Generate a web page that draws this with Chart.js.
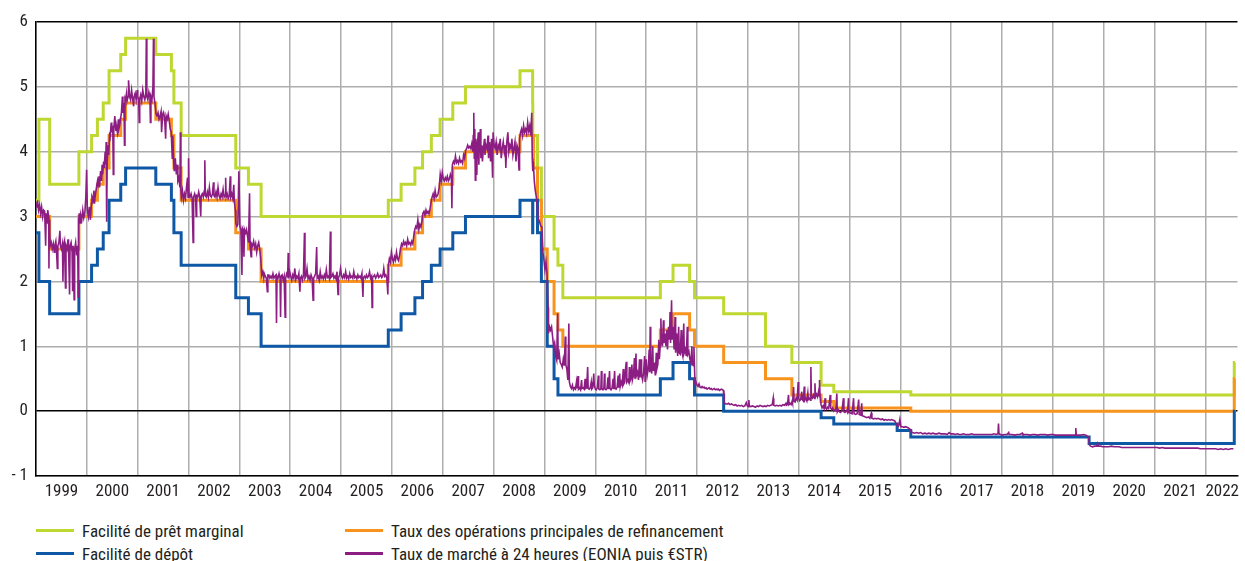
<!DOCTYPE html>
<html>
<head>
<meta charset="utf-8">
<script src="https://cdn.jsdelivr.net/npm/chart.js@4"></script>
<style>
  html, body { margin: 0; padding: 0; background: #fff; overflow: hidden; }
  #wrap { position: relative; width: 1245px; height: 561px; }
  #chart { position: absolute; left: 0; top: 0; }
  #legend { position: absolute; left: 0; top: 519px; width: 1245px; color: #231f20;
    font-family: 'Liberation Sans Narrow', 'Arial Narrow', 'Roboto Condensed', 'Liberation Sans', Arial, sans-serif;
    font-size: 17px; }
  .item { position: absolute; height: 23px; display: flex; align-items: center; white-space: nowrap; }
  .item i { display: inline-block; width: 38px; height: 3px; margin-right: 8px; }
</style>
</head>
<body>
<div id="wrap">
  <canvas id="chart" width="1245" height="510"></canvas>
  <div id="legend"></div>
</div>
<script>
const FONT = "'Liberation Sans Narrow', 'Arial Narrow', 'Roboto Condensed', 'Liberation Sans', Arial, sans-serif"

// x range (decimal years) and tick labels
const xMin = 1999
const xMax = 2022.63
const years = [1999, 2000, 2001, 2002, 2003, 2004, 2005, 2006, 2007, 2008, 2009, 2010,
  2011, 2012, 2013, 2014, 2015, 2016, 2017, 2018, 2019, 2020, 2021, 2022]
const yTicks = [-1, 0, 1, 2, 3, 4, 5, 6]

// ECB key rates, effective dates
const rateDates = ['1999-01-01', '1999-01-22', '1999-04-09', '1999-11-05', '2000-02-04', '2000-03-17',
  '2000-04-28', '2000-06-09', '2000-09-01', '2000-10-06', '2001-05-11', '2001-08-31', '2001-09-18',
  '2001-11-09', '2002-12-06', '2003-03-07', '2003-06-06', '2005-12-06', '2006-03-08', '2006-06-15',
  '2006-08-09', '2006-10-11', '2006-12-13', '2007-03-14', '2007-06-13', '2008-07-09', '2008-10-08',
  '2008-10-09', '2008-10-15', '2008-11-12', '2008-12-10', '2009-01-21', '2009-03-11', '2009-04-08',
  '2009-05-13', '2011-04-13', '2011-07-13', '2011-11-09', '2011-12-14', '2012-07-11', '2013-05-08',
  '2013-11-13', '2014-06-11', '2014-09-10', '2015-12-09', '2016-03-16', '2019-09-18', '2022-07-27',
  '2022-08-01']
const marginalRate = [3.25, 4.50, 3.50, 4.00, 4.25, 4.50, 4.75, 5.25, 5.50, 5.75, 5.50, 5.25, 4.75,
  4.25, 3.75, 3.50, 3.00, 3.25, 3.50, 3.75, 4.00, 4.25, 4.50, 4.75, 5.00, 5.25, 4.75, 4.25, 4.25,
  3.75, 3.00, 3.00, 2.50, 2.25, 1.75, 2.00, 2.25, 2.00, 1.75, 1.50, 1.00, 0.75, 0.40, 0.30, 0.30,
  0.25, 0.25, 0.75, 0.75]
const mroRate = [3.00, 3.00, 2.50, 3.00, 3.25, 3.50, 3.75, 4.25, 4.50, 4.75, 4.50, 4.25, 3.75,
  3.25, 2.75, 2.50, 2.00, 2.25, 2.50, 2.75, 3.00, 3.25, 3.50, 3.75, 4.00, 4.25, 4.25, 4.25, 3.75,
  3.25, 2.50, 2.00, 1.50, 1.25, 1.00, 1.25, 1.50, 1.25, 1.00, 0.75, 0.50, 0.25, 0.15, 0.05, 0.05,
  0.00, 0.00, 0.50, 0.50]
const depositRate = [2.75, 2.00, 1.50, 2.00, 2.25, 2.50, 2.75, 3.25, 3.50, 3.75, 3.50, 3.25, 2.75,
  2.25, 1.75, 1.50, 1.00, 1.25, 1.50, 1.75, 2.00, 2.25, 2.50, 2.75, 3.00, 3.25, 2.75, 3.25, 3.25,
  2.75, 2.00, 1.00, 0.50, 0.25, 0.25, 0.50, 0.75, 0.50, 0.25, 0.00, 0.00, 0.00, -0.10, -0.20, -0.30,
  -0.40, -0.50, 0.00, 0.00]

// overnight rate (EONIA then €STR), [decimal year, %]
const overnight = [
  [1999.00,3.20],[1999.02,3.15],[1999.03,3.25],[1999.05,3.10],[1999.07,3.18],[1999.09,3.05],[1999.11,3.15],
  [1999.13,3.00],[1999.15,3.10],[1999.17,3.08],[1999.19,2.55],[1999.20,3.05],[1999.22,2.90],[1999.23,3.10],
  [1999.25,3.00],[1999.255,2.20],[1999.26,2.95],[1999.27,2.75],[1999.28,2.55],[1999.30,2.60],[1999.32,2.50],
  [1999.34,2.58],[1999.36,2.45],[1999.37,2.55],[1999.39,2.62],[1999.40,2.52],[1999.42,2.20],[1999.43,2.55],
  [1999.45,2.60],[1999.47,2.78],[1999.48,2.55],[1999.50,2.50],[1999.52,2.58],[1999.53,2.00],[1999.54,2.55],
  [1999.56,2.62],[1999.58,1.90],[1999.59,2.55],[1999.61,2.50],[1999.63,2.65],[1999.64,2.52],[1999.66,1.80],
  [1999.67,2.55],[1999.69,2.60],[1999.71,2.45],[1999.72,1.85],[1999.73,2.55],[1999.75,1.72],[1999.76,2.50],
  [1999.78,2.60],[1999.80,2.40],[1999.82,2.55],[1999.83,1.76],[1999.84,2.95],[1999.85,3.05],[1999.87,2.90],
  [1999.88,3.02],[1999.90,2.95],[1999.92,3.10],[1999.94,2.98],[1999.96,3.05],[1999.98,3.30],[1999.995,3.72],
  [2000.01,3.10],[2000.03,3.00],[2000.05,3.15],[2000.07,2.95],[2000.09,3.20],[2000.10,3.30],[2000.12,3.25],
  [2000.14,3.40],[2000.15,3.20],[2000.17,3.35],[2000.19,3.45],[2000.21,3.55],[2000.22,3.50],[2000.24,3.62],
  [2000.25,3.45],[2000.27,3.70],[2000.29,3.55],[2000.30,3.80],[2000.31,3.65],[2000.33,3.85],[2000.34,3.75],
  [2000.36,4.00],[2000.37,3.80],[2000.38,4.15],[2000.39,2.92],[2000.40,3.85],[2000.42,4.10],[2000.43,3.95],
  [2000.45,4.30],[2000.46,4.25],[2000.48,4.45],[2000.49,4.30],[2000.51,4.40],[2000.52,3.65],[2000.53,4.35],
  [2000.55,4.55],[2000.57,4.32],[2000.58,4.40],[2000.60,4.30],[2000.62,4.50],[2000.63,4.35],[2000.65,4.42],
  [2000.67,4.55],[2000.68,4.60],[2000.70,4.85],[2000.71,4.60],[2000.73,4.75],[2000.74,4.10],[2000.75,4.82],
  [2000.76,4.80],[2000.78,4.90],[2000.79,4.78],[2000.81,4.85],[2000.82,5.10],[2000.84,4.85],[2000.86,4.80],
  [2000.88,4.95],[2000.90,4.82],[2000.92,4.70],[2000.93,4.85],[2000.95,4.90],[2000.97,4.80],[2000.99,4.95],
  [2001.00,4.85],[2001.02,4.80],[2001.03,4.45],[2001.04,4.82],[2001.06,4.88],[2001.08,4.78],[2001.10,4.95],
  [2001.12,4.85],[2001.14,4.80],[2001.16,4.90],[2001.17,5.74],[2001.18,4.85],[2001.20,4.80],[2001.22,4.92],
  [2001.24,4.85],[2001.25,4.45],[2001.26,4.85],[2001.28,4.80],[2001.30,5.00],[2001.31,5.74],[2001.32,4.85],
  [2001.34,4.75],[2001.36,4.58],[2001.38,4.55],[2001.40,4.60],[2001.42,4.50],[2001.44,4.55],[2001.46,4.62],
  [2001.47,4.30],[2001.49,4.55],[2001.51,4.60],[2001.53,4.52],[2001.55,4.20],[2001.56,4.55],[2001.58,4.50],
  [2001.60,4.58],[2001.62,4.48],[2001.64,4.35],[2001.66,4.30],[2001.68,3.90],[2001.69,4.25],[2001.71,3.80],
  [2001.72,3.70],[2001.74,3.90],[2001.76,3.65],[2001.78,3.80],[2001.79,3.55],[2001.81,3.60],[2001.83,3.45],
  [2001.84,4.30],[2001.85,3.40],[2001.86,3.30],[2001.88,3.40],[2001.90,3.25],[2001.92,3.35],[2001.94,3.28],
  [2001.96,3.45],[2001.98,3.60],[2001.99,3.30],
  [2002.00,3.90],[2002.01,3.35],[2002.03,3.30],[2002.05,3.35],[2002.07,3.28],[2002.09,2.60],[2002.10,3.30],
  [2002.12,3.35],[2002.14,3.28],[2002.15,3.00],[2002.16,3.32],[2002.18,3.30],[2002.20,3.38],[2002.22,3.30],
  [2002.24,3.00],[2002.25,3.32],[2002.27,3.35],[2002.29,3.30],[2002.31,3.40],[2002.32,3.87],[2002.33,3.32],
  [2002.35,3.30],[2002.37,3.38],[2002.39,3.30],[2002.41,3.45],[2002.43,3.32],[2002.45,3.30],[2002.47,3.35],
  [2002.49,3.53],[2002.50,3.32],[2002.52,3.30],[2002.54,3.38],[2002.56,3.30],[2002.58,3.45],[2002.60,3.32],
  [2002.62,3.28],[2002.64,3.35],[2002.66,3.30],[2002.68,3.42],[2002.70,3.30],[2002.72,3.33],[2002.73,3.60],
  [2002.74,3.30],[2002.76,3.35],[2002.78,3.28],[2002.80,3.32],[2002.82,3.62],[2002.83,3.30],[2002.85,3.35],
  [2002.87,3.28],[2002.89,3.49],[2002.90,3.25],[2002.92,3.10],[2002.93,2.90],[2002.95,2.85],[2002.97,2.88],
  [2002.99,3.70],
  [2003.01,2.85],[2003.03,2.80],[2003.05,2.10],[2003.06,2.82],[2003.08,2.78],[2003.09,2.38],[2003.10,2.80],
  [2003.12,2.75],[2003.14,2.80],[2003.16,2.70],[2003.18,2.60],[2003.20,3.36],[2003.21,2.55],[2003.23,2.38],
  [2003.24,2.58],[2003.26,2.55],[2003.28,2.62],[2003.30,2.52],[2003.32,2.58],[2003.34,2.45],[2003.36,2.55],
  [2003.38,2.60],[2003.40,2.50],[2003.42,2.35],[2003.44,2.10],[2003.46,2.15],[2003.48,2.05],[2003.49,2.12],
  [2003.51,2.08],[2003.53,2.05],[2003.55,1.84],[2003.56,2.10],[2003.58,2.10],[2003.60,2.05],[2003.62,2.08],
  [2003.64,2.05],[2003.66,2.12],[2003.68,2.05],[2003.70,2.08],[2003.72,2.10],[2003.73,1.36],[2003.74,2.08],
  [2003.76,2.05],[2003.78,2.12],[2003.80,2.05],[2003.81,1.45],[2003.82,2.08],[2003.84,2.10],[2003.86,2.02],
  [2003.88,2.08],[2003.90,1.45],[2003.91,2.05],[2003.93,2.12],[2003.95,2.08],[2003.96,2.44],[2003.97,2.05],
  [2003.99,2.15],
  [2004.01,2.08],[2004.03,2.02],[2004.05,2.10],[2004.07,2.05],[2004.09,2.20],[2004.11,2.03],[2004.13,2.08],
  [2004.15,2.05],[2004.17,2.12],[2004.19,1.84],[2004.20,2.05],[2004.22,2.08],[2004.24,2.02],[2004.26,2.10],
  [2004.28,2.75],[2004.29,2.05],[2004.31,2.08],[2004.33,2.20],[2004.35,2.04],[2004.37,2.08],[2004.39,2.02],
  [2004.41,2.10],[2004.43,2.05],[2004.45,1.71],[2004.46,2.05],[2004.48,2.08],[2004.50,2.12],[2004.52,2.53],
  [2004.53,2.05],[2004.55,2.08],[2004.57,2.02],[2004.59,2.15],[2004.61,2.05],[2004.63,2.08],[2004.65,2.04],
  [2004.67,2.10],[2004.69,2.05],[2004.71,2.18],[2004.73,2.06],[2004.75,2.08],[2004.77,2.04],[2004.79,2.77],
  [2004.80,2.06],[2004.82,2.08],[2004.84,2.12],[2004.86,2.05],[2004.88,2.08],[2004.90,2.04],[2004.92,2.15],
  [2004.94,1.80],[2004.95,2.06],[2004.97,2.10],[2004.99,2.20],
  [2005.01,2.08],[2005.03,2.05],[2005.05,2.10],[2005.07,2.06],[2005.09,2.15],[2005.11,2.05],[2005.13,2.08],
  [2005.15,2.04],[2005.17,2.12],[2005.19,2.06],[2005.21,2.08],[2005.23,2.05],[2005.25,2.15],[2005.27,2.06],
  [2005.29,2.08],[2005.31,2.04],[2005.33,2.10],[2005.35,2.06],[2005.37,2.08],[2005.39,2.05],[2005.41,2.12],
  [2005.43,1.76],[2005.44,2.06],[2005.46,2.08],[2005.48,2.05],[2005.50,2.10],[2005.52,2.06],[2005.54,2.08],
  [2005.56,2.15],[2005.58,2.05],[2005.60,2.08],[2005.61,1.60],[2005.62,2.06],[2005.64,2.08],[2005.66,2.10],
  [2005.68,2.05],[2005.70,2.08],[2005.72,2.12],[2005.74,2.06],[2005.76,2.08],[2005.78,2.10],[2005.80,2.06],
  [2005.82,2.08],[2005.84,2.20],[2005.86,2.08],[2005.88,2.10],[2005.90,2.05],[2005.92,1.80],[2005.93,2.25],
  [2005.95,2.35],[2005.97,2.30],[2005.99,2.45],
  [2006.01,2.35],[2006.03,2.30],[2006.05,2.38],[2006.07,2.33],[2006.09,2.45],[2006.11,2.35],[2006.13,2.32],
  [2006.15,2.40],[2006.17,2.50],[2006.19,2.58],[2006.21,2.55],[2006.23,2.62],[2006.25,2.57],[2006.27,2.60],
  [2006.29,2.55],[2006.31,2.65],[2006.33,2.58],[2006.35,2.60],[2006.37,2.56],[2006.39,2.62],[2006.41,2.58],
  [2006.43,2.70],[2006.45,2.80],[2006.47,2.85],[2006.49,2.82],[2006.51,2.95],[2006.53,2.80],[2006.55,2.88],
  [2006.57,2.84],[2006.59,2.92],[2006.61,3.05],[2006.63,3.08],[2006.65,3.02],[2006.67,3.10],[2006.69,3.05],
  [2006.71,3.08],[2006.73,3.04],[2006.75,3.12],[2006.77,3.22],[2006.79,3.30],[2006.81,3.35],[2006.83,3.28],
  [2006.85,3.40],[2006.87,3.30],[2006.89,3.32],[2006.91,3.36],[2006.93,3.45],[2006.95,3.65],[2006.97,3.55],
  [2006.99,3.68],
  [2007.01,3.58],[2007.03,3.55],[2007.05,3.60],[2007.07,3.56],[2007.09,3.62],[2007.11,3.55],[2007.13,3.58],
  [2007.15,3.65],[2007.17,3.60],[2007.18,3.13],[2007.19,3.80],[2007.21,3.85],[2007.23,3.82],[2007.25,3.93],
  [2007.27,3.83],[2007.29,3.86],[2007.31,3.82],[2007.33,3.90],[2007.35,3.84],[2007.37,3.86],[2007.39,3.82],
  [2007.41,3.95],[2007.43,3.90],[2007.45,4.02],[2007.47,4.05],[2007.49,4.10],[2007.51,4.06],[2007.53,4.08],
  [2007.55,4.05],[2007.57,4.12],[2007.59,4.00],[2007.60,4.25],[2007.61,4.60],[2007.62,3.90],[2007.63,4.35],
  [2007.64,3.56],[2007.65,4.20],[2007.66,4.05],[2007.67,3.64],[2007.68,4.10],[2007.70,4.30],[2007.71,3.80],
  [2007.72,4.15],[2007.74,4.35],[2007.75,3.90],[2007.77,4.10],[2007.78,3.85],[2007.80,4.05],[2007.82,4.20],
  [2007.83,3.95],[2007.85,4.10],[2007.87,4.05],[2007.89,4.25],[2007.90,3.90],[2007.92,4.15],[2007.94,3.85],
  [2007.96,4.20],[2007.98,3.60],[2007.99,4.30],
  [2008.01,4.10],[2008.03,4.05],[2008.05,4.15],[2008.07,3.95],[2008.09,4.10],[2008.11,4.05],[2008.13,4.20],
  [2008.15,3.90],[2008.17,4.05],[2008.19,4.15],[2008.21,4.00],[2008.23,4.10],[2008.24,3.75],[2008.26,4.15],
  [2008.28,4.30],[2008.30,4.00],[2008.32,4.10],[2008.34,4.05],[2008.36,4.20],[2008.38,3.95],[2008.40,4.05],
  [2008.42,4.15],[2008.44,3.85],[2008.46,4.10],[2008.48,4.05],[2008.50,3.72],[2008.51,4.20],[2008.53,4.30],
  [2008.55,4.35],[2008.57,4.25],[2008.59,4.40],[2008.61,4.30],[2008.63,4.35],[2008.65,4.28],[2008.67,4.45],
  [2008.69,4.32],[2008.71,4.40],[2008.73,4.25],[2008.75,4.60],[2008.76,3.90],[2008.77,3.70],[2008.78,3.85],
  [2008.80,3.55],[2008.82,3.40],[2008.84,3.30],[2008.86,3.15],[2008.87,2.95],[2008.89,2.95],[2008.91,2.90],
  [2008.93,2.85],[2008.95,2.84],[2008.97,2.45],[2008.99,2.33],
  [2009.01,2.18],[2009.03,2.30],[2009.05,2.13],[2009.07,1.60],[2009.08,1.20],[2009.10,1.30],[2009.12,1.25],
  [2009.14,1.30],[2009.16,1.15],[2009.18,0.99],[2009.20,1.05],[2009.22,0.85],[2009.24,0.79],[2009.26,1.51],
  [2009.27,0.80],[2009.29,0.89],[2009.31,0.75],[2009.33,0.72],[2009.35,0.68],[2009.37,0.80],[2009.39,0.70],
  [2009.41,1.15],[2009.42,0.72],[2009.44,0.65],[2009.46,0.48],[2009.48,1.35],[2009.49,0.45],[2009.51,0.38],
  [2009.53,0.35],[2009.55,0.40],[2009.57,0.33],[2009.59,0.36],[2009.61,0.34],[2009.63,0.45],[2009.64,0.35],
  [2009.66,0.54],[2009.67,0.34],[2009.69,0.36],[2009.71,0.33],[2009.73,0.48],[2009.74,0.35],[2009.76,0.36],
  [2009.78,0.34],[2009.80,0.50],[2009.81,0.35],[2009.83,0.36],[2009.85,0.68],[2009.86,0.35],[2009.88,0.34],
  [2009.90,0.36],[2009.92,0.45],[2009.93,0.34],[2009.95,0.36],[2009.97,0.58],[2009.98,0.40],
  [2010.00,0.34],[2010.02,0.33],[2010.04,0.36],[2010.06,0.55],[2010.07,0.34],[2010.09,0.33],[2010.11,0.35],
  [2010.12,0.62],[2010.13,0.34],[2010.15,0.33],[2010.17,0.36],[2010.18,0.58],[2010.19,0.34],[2010.21,0.33],
  [2010.23,0.35],[2010.25,0.52],[2010.26,0.34],[2010.28,0.62],[2010.29,0.35],[2010.31,0.33],[2010.33,0.36],
  [2010.35,0.50],[2010.36,0.34],[2010.38,0.62],[2010.39,0.35],[2010.41,0.34],[2010.43,0.37],[2010.45,0.55],
  [2010.46,0.36],[2010.48,0.58],[2010.49,0.38],[2010.51,0.45],[2010.53,0.40],[2010.55,0.65],[2010.56,0.42],
  [2010.58,0.45],[2010.60,0.70],[2010.61,0.76],[2010.62,0.45],[2010.64,0.48],[2010.66,0.44],[2010.67,0.68],
  [2010.68,0.46],[2010.70,0.50],[2010.72,0.72],[2010.73,0.48],[2010.75,0.55],[2010.77,0.82],[2010.78,0.50],
  [2010.80,0.89],[2010.81,0.55],[2010.83,0.60],[2010.85,0.48],[2010.87,0.80],[2010.88,0.52],[2010.90,0.80],
  [2010.91,0.55],[2010.93,0.48],[2010.95,0.60],[2010.97,0.85],[2010.98,0.45],
  [2011.00,0.80],[2011.02,0.55],[2011.04,0.65],[2011.06,0.95],[2011.07,0.60],[2011.08,1.30],[2011.09,0.70],
  [2011.11,0.58],[2011.13,1.00],[2011.14,0.62],[2011.16,0.75],[2011.18,0.55],[2011.20,0.90],[2011.21,0.65],
  [2011.23,0.72],[2011.25,1.10],[2011.26,0.80],[2011.28,1.05],[2011.29,1.43],[2011.30,1.10],[2011.32,1.00],
  [2011.34,1.40],[2011.35,1.05],[2011.37,1.20],[2011.39,1.00],[2011.41,1.25],[2011.42,0.95],[2011.44,1.30],
  [2011.46,1.10],[2011.47,1.53],[2011.48,1.05],[2011.50,1.71],[2011.51,1.10],[2011.53,1.30],[2011.55,0.95],
  [2011.57,1.45],[2011.58,0.90],[2011.60,1.20],[2011.62,0.85],[2011.64,1.30],[2011.65,0.90],[2011.67,0.88],
  [2011.69,1.25],[2011.70,0.92],[2011.72,0.85],[2011.74,1.35],[2011.75,0.90],[2011.77,0.95],[2011.79,0.85],
  [2011.81,1.30],[2011.82,0.88],[2011.84,0.92],[2011.86,0.80],[2011.88,0.75],[2011.90,1.00],[2011.91,0.72],
  [2011.93,0.70],[2011.94,0.99],[2011.96,0.43],[2011.98,0.45],
  [2012.00,0.40],[2012.02,0.38],[2012.04,0.42],[2012.06,0.37],[2012.08,0.36],[2012.10,0.38],[2012.12,0.36],
  [2012.14,0.37],[2012.16,0.35],[2012.18,0.36],[2012.20,0.34],[2012.22,0.35],[2012.24,0.36],[2012.26,0.34],
  [2012.28,0.35],[2012.30,0.33],[2012.32,0.34],[2012.34,0.35],[2012.36,0.33],[2012.38,0.34],[2012.40,0.33],
  [2012.42,0.34],[2012.44,0.32],[2012.46,0.33],[2012.48,0.34],[2012.50,0.33],[2012.52,0.32],[2012.53,0.14],
  [2012.55,0.12],[2012.57,0.11],[2012.60,0.11],[2012.62,0.12],[2012.65,0.10],[2012.68,0.11],[2012.70,0.10],
  [2012.73,0.09],[2012.76,0.10],[2012.79,0.08],[2012.82,0.09],[2012.85,0.08],[2012.88,0.09],[2012.91,0.07],
  [2012.94,0.08],[2012.97,0.13],[2012.99,0.08],
  [2013.01,0.07],[2013.02,0.17],[2013.03,0.08],[2013.06,0.07],[2013.09,0.08],[2013.12,0.07],[2013.15,0.06],
  [2013.18,0.08],[2013.21,0.07],[2013.24,0.09],[2013.27,0.08],[2013.30,0.07],[2013.33,0.08],[2013.36,0.07],
  [2013.39,0.09],[2013.42,0.08],[2013.45,0.09],[2013.48,0.10],[2013.50,0.20],[2013.51,0.09],[2013.54,0.08],
  [2013.57,0.09],[2013.60,0.08],[2013.63,0.09],[2013.66,0.08],[2013.69,0.10],[2013.72,0.09],[2013.75,0.12],
  [2013.76,0.09],[2013.78,0.10],[2013.80,0.25],[2013.81,0.10],[2013.83,0.12],[2013.85,0.10],[2013.87,0.15],
  [2013.88,0.12],[2013.90,0.37],[2013.91,0.15],[2013.93,0.14],[2013.95,0.20],[2013.97,0.17],[2013.99,0.45],
  [2014.00,0.20],[2014.02,0.16],[2014.04,0.18],[2014.06,0.30],[2014.07,0.18],[2014.09,0.16],[2014.11,0.38],
  [2014.12,0.17],[2014.14,0.20],[2014.16,0.16],[2014.18,0.28],[2014.19,0.18],[2014.21,0.20],[2014.23,0.17],
  [2014.24,0.68],[2014.25,0.22],[2014.27,0.20],[2014.29,0.25],[2014.31,0.20],[2014.32,0.43],[2014.33,0.22],
  [2014.35,0.26],[2014.37,0.22],[2014.39,0.30],[2014.40,0.24],[2014.41,0.48],[2014.42,0.25],[2014.44,0.10],
  [2014.46,0.05],[2014.48,0.08],[2014.50,0.04],[2014.52,0.20],[2014.53,0.05],[2014.55,0.03],[2014.57,0.06],
  [2014.59,0.04],[2014.62,0.25],[2014.63,0.05],[2014.65,0.02],[2014.67,0.05],[2014.69,0.00],[2014.71,0.02],
  [2014.73,0.01],[2014.75,0.27],[2014.76,-0.01],[2014.78,0.02],[2014.80,-0.01],[2014.82,-0.02],[2014.85,0.00],
  [2014.88,0.20],[2014.89,-0.01],[2014.91,-0.02],[2014.94,0.01],[2014.96,-0.02],[2014.98,0.20],[2014.99,-0.02],
  [2015.02,-0.03],[2015.05,-0.04],[2015.08,0.20],[2015.09,-0.04],[2015.12,-0.05],[2015.15,-0.04],[2015.18,0.18],
  [2015.19,-0.05],[2015.22,-0.06],[2015.24,0.12],[2015.25,-0.07],[2015.28,-0.08],[2015.31,-0.09],[2015.34,-0.10],
  [2015.37,-0.09],[2015.40,-0.11],[2015.43,-0.03],[2015.44,-0.11],[2015.47,-0.12],[2015.50,-0.11],[2015.53,-0.12],
  [2015.56,-0.11],[2015.59,-0.12],[2015.62,-0.13],[2015.65,-0.12],[2015.68,-0.14],[2015.71,-0.13],[2015.74,-0.14],
  [2015.77,-0.13],[2015.80,-0.14],[2015.83,-0.13],[2015.86,-0.14],[2015.89,-0.15],[2015.92,-0.20],[2015.95,-0.24],
  [2015.97,-0.22],[2015.99,-0.13],
  [2016.01,-0.24],[2016.04,-0.24],[2016.07,-0.25],[2016.10,-0.24],[2016.13,-0.25],[2016.16,-0.26],[2016.19,-0.28],
  [2016.21,-0.32],[2016.24,-0.33],[2016.28,-0.34],[2016.32,-0.33],[2016.36,-0.34],[2016.40,-0.33],[2016.44,-0.35],
  [2016.48,-0.34],[2016.52,-0.35],[2016.56,-0.34],[2016.60,-0.35],[2016.64,-0.34],[2016.68,-0.35],[2016.72,-0.35],
  [2016.76,-0.34],[2016.80,-0.35],[2016.84,-0.35],[2016.88,-0.35],[2016.92,-0.36],[2016.96,-0.33],[2016.99,-0.35],
  [2017.04,-0.35],[2017.08,-0.36],[2017.12,-0.35],[2017.16,-0.36],[2017.20,-0.36],[2017.24,-0.35],[2017.28,-0.36],
  [2017.32,-0.36],[2017.36,-0.36],[2017.40,-0.35],[2017.44,-0.36],[2017.48,-0.36],[2017.52,-0.36],[2017.56,-0.36],
  [2017.60,-0.36],[2017.64,-0.36],[2017.68,-0.36],[2017.72,-0.36],[2017.76,-0.36],[2017.80,-0.36],[2017.84,-0.35],
  [2017.88,-0.36],[2017.92,-0.35],[2017.93,-0.19],[2017.94,-0.35],[2017.97,-0.36],
  [2018.00,-0.37],[2018.05,-0.36],[2018.10,-0.36],[2018.13,-0.33],[2018.14,-0.36],[2018.20,-0.36],[2018.25,-0.37],
  [2018.30,-0.36],[2018.35,-0.36],[2018.40,-0.34],[2018.41,-0.36],[2018.45,-0.36],[2018.50,-0.36],[2018.55,-0.37],
  [2018.60,-0.36],[2018.65,-0.36],[2018.70,-0.37],[2018.75,-0.36],[2018.80,-0.36],[2018.85,-0.36],[2018.90,-0.37],
  [2018.95,-0.36],
  [2019.00,-0.36],[2019.05,-0.37],[2019.10,-0.37],[2019.15,-0.37],[2019.20,-0.37],[2019.25,-0.37],[2019.30,-0.37],
  [2019.35,-0.37],[2019.40,-0.37],[2019.44,-0.37],[2019.45,-0.26],[2019.46,-0.37],[2019.50,-0.37],[2019.55,-0.37],
  [2019.60,-0.36],[2019.65,-0.37],[2019.70,-0.40],[2019.72,-0.52],[2019.74,-0.54],[2019.78,-0.55],[2019.82,-0.54],
  [2019.86,-0.54],[2019.88,-0.50],[2019.89,-0.54],[2019.94,-0.54],[2019.98,-0.55],
  [2020.05,-0.55],[2020.10,-0.55],[2020.15,-0.54],[2020.20,-0.55],[2020.25,-0.55],[2020.30,-0.55],[2020.35,-0.56],
  [2020.40,-0.56],[2020.45,-0.56],[2020.50,-0.56],[2020.55,-0.56],[2020.60,-0.56],[2020.65,-0.56],[2020.70,-0.56],
  [2020.75,-0.56],[2020.80,-0.56],[2020.85,-0.56],[2020.90,-0.56],[2020.95,-0.56],
  [2021.00,-0.56],[2021.05,-0.56],[2021.10,-0.57],[2021.15,-0.56],[2021.20,-0.57],[2021.25,-0.57],[2021.30,-0.57],
  [2021.35,-0.57],[2021.40,-0.57],[2021.45,-0.57],[2021.50,-0.57],[2021.55,-0.57],[2021.60,-0.57],[2021.65,-0.57],
  [2021.70,-0.57],[2021.75,-0.57],[2021.80,-0.57],[2021.85,-0.57],[2021.90,-0.58],[2021.95,-0.58],
  [2022.00,-0.58],[2022.05,-0.58],[2022.10,-0.58],[2022.15,-0.58],[2022.20,-0.58],[2022.25,-0.59],[2022.30,-0.58],
  [2022.35,-0.59],[2022.40,-0.58],[2022.45,-0.59],[2022.50,-0.58],[2022.55,-0.58]
]

const labels = ['Facilité de prêt marginal', 'Taux des opérations principales de refinancement',
  'Facilité de dépôt', 'Taux de marché à 24 heures (EONIA puis €STR)']
const colors = ['#bfd731', '#f7941d', '#0f58a6', '#8c1d82']

function decYear(s) {
  const [y, m, d] = s.split('-').map(Number)
  const start = Date.UTC(y, 0, 1)
  const end = Date.UTC(y + 1, 0, 1)
  return y + (Date.UTC(y, m - 1, d) - start) / (end - start)
}

const rateX = rateDates.map(decYear)
const toPoints = (vals) => vals.map((v, i) => ({ x: rateX[i], y: v }))

const grey = '#adadad'

const config = {
  type: 'line',
  data: {
    datasets: [
      { label: labels[0], data: toPoints(marginalRate), borderColor: colors[0], borderWidth: 3, stepped: 'before', order: 3 },
      { label: labels[1], data: toPoints(mroRate), borderColor: colors[1], borderWidth: 3, stepped: 'before', order: 2 },
      { label: labels[2], data: toPoints(depositRate), borderColor: colors[2], borderWidth: 3, stepped: 'before', order: 1 },
      { label: labels[3], data: overnight.map(p => ({ x: p[0], y: p[1] })), borderColor: colors[3], borderWidth: 1.6, order: 0 }
    ]
  },
  options: {
    responsive: false,
    animation: false,
    events: [],
    layout: { padding: { top: 22, right: 0, left: 0, bottom: 0 } },
    elements: { point: { radius: 0 }, line: { tension: 0, borderCapStyle: 'butt', borderJoinStyle: 'miter' } },
    plugins: { legend: { display: false }, tooltip: { enabled: false } },
    scales: {
      x: {
        type: 'linear',
        min: xMin,
        max: xMax,
        afterBuildTicks: (scale) => {
          const t = []
          years.forEach(y => {
            t.push({ value: y })
            t.push({ value: Math.min(y + 0.5, xMax - 0.3) })
          })
          scale.ticks = t
        },
        afterFit: (scale) => { scale.height = 34 },
        grid: {
          drawTicks: false,
          lineWidth: 1.5,
          color: (ctx) => (ctx.tick && Number.isInteger(ctx.tick.value)) ? grey : 'rgba(0,0,0,0)'
        },
        border: { color: '#000', width: 1.5 },
        ticks: {
          autoSkip: false,
          maxRotation: 0,
          padding: 6,
          color: '#231f20',
          font: { family: FONT, size: 17 },
          callback: (v) => Number.isInteger(v) ? '' : String(Math.floor(v))
        }
      },
      y: {
        min: -1,
        max: 6,
        afterBuildTicks: (scale) => { scale.ticks = yTicks.map(v => ({ value: v })) },
        afterFit: (scale) => { scale.width = 36 },
        grid: {
          drawTicks: false,
          lineWidth: 1.5,
          color: (ctx) => (ctx.tick && (ctx.tick.value === 0 || ctx.tick.value === 6)) ? '#000' : grey
        },
        border: { color: '#000', width: 1.5 },
        ticks: {
          padding: 8,
          color: '#231f20',
          font: { family: FONT, size: 17 },
          callback: (v) => v < 0 ? '- ' + (-v) : String(v)
        }
      }
    }
  }
}

const chart = new Chart(document.getElementById('chart'), config)

// two-column legend under the chart
const legend = document.getElementById('legend')
chart.data.datasets.forEach((ds, i) => {
  const item = document.createElement('div')
  item.className = 'item'
  item.style.left = (i % 2 === 0 ? 36 : 345) + 'px'
  item.style.top = (Math.floor(i / 2) * 23) + 'px'
  const line = document.createElement('i')
  line.style.background = ds.borderColor
  item.appendChild(line)
  item.appendChild(document.createTextNode(ds.label))
  legend.appendChild(item)
})
</script>
</body>
</html>
